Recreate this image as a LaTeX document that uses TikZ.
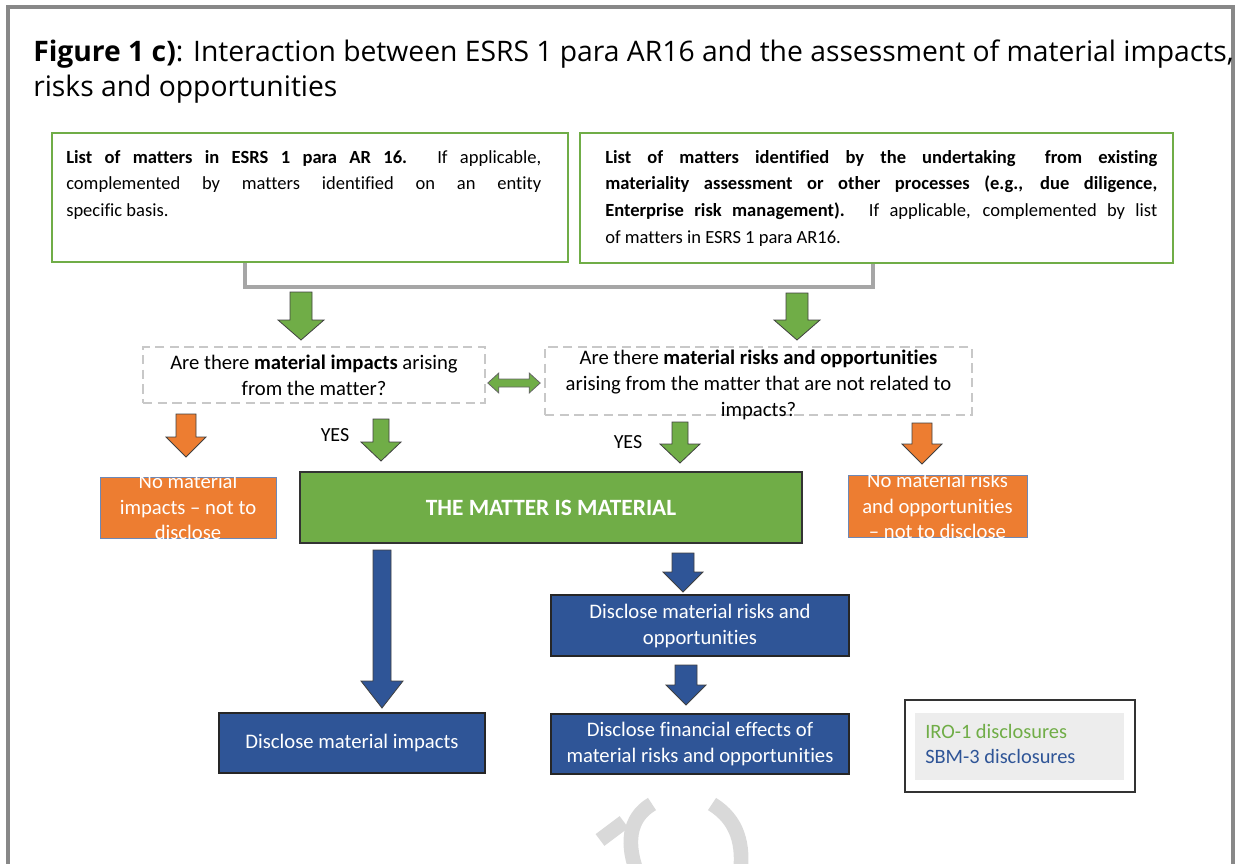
\documentclass[tikz,border=0pt]{standalone}
\usepackage{fontspec}
\setmainfont[Ligatures={TeX,NoCommon}]{Carlito}
\newfontfamily\titlefont{Open Sans}
\usetikzlibrary{calc}
\definecolor{ggreen}{HTML}{70AD47}
\definecolor{gorange}{HTML}{ED7D31}
\definecolor{gblue}{HTML}{2F5597}
\definecolor{framegray}{HTML}{888888}
\definecolor{dashgray}{HTML}{C8C8C8}
\definecolor{legbg}{HTML}{EDEDED}
\definecolor{wmgray}{HTML}{D9D9D9}
\definecolor{conngray}{HTML}{A6A6A6}
\newcommand{\blockdown}[7]{%
  \filldraw[fill=#7, draw=black!75, line width=0.6pt]
    (#1-#4,#2) -- (#1+#4,#2) -- (#1+#4,#3-#6) -- (#1+#5,#3-#6) -- (#1,#3)
    -- (#1-#5,#3-#6) -- (#1-#4,#3-#6) -- cycle;}
\tikzset{
  greenbox/.style={draw=ggreen, line width=1.5pt, fill=white, inner sep=0pt},
  qbox/.style={draw=dashgray, line width=1.2pt, dash pattern=on 7pt off 4pt, inner sep=0pt},
  orangebox/.style={draw=gblue!70, line width=0.6pt, fill=gorange, inner sep=0pt},
  bluebox/.style={draw=black!85, line width=0.8pt, fill=gblue, inner sep=0pt, text=white,
     align=center, font=\fontsize{15.5}{19.5}\selectfont},
  bodytext/.style={inner sep=0pt, font=\fontsize{13.9}{20}\selectfont},
  qtext/.style={inner sep=0pt, align=center, font=\fontsize{15.5}{19.5}\selectfont},
  otext/.style={inner sep=0pt, align=center, text=white, font=\fontsize{15.5}{19}\selectfont},
  yestext/.style={inner sep=0pt, font=\fontsize{15}{17}\selectfont},
  legtext/.style={anchor=west, inner sep=0pt, font=\fontsize{15.3}{17}\selectfont},
  titletext/.style={anchor=base west, inner sep=0pt, font=\titlefont\fontsize{21.2}{26}\selectfont},
}
\begin{document}
\begin{tikzpicture}[x=0.75pt,y=-0.75pt]
\useasboundingbox (0,0) rectangle (1241,863);
% frame
\draw[framegray, line width=3pt] (8,880) -- (8,7) -- (1233,7) -- (1233,880);
% title
\node[titletext] (t1) at (33,62)
  {\textbf{Figure 1 c)}: Interaction between ESRS 1 para AR16 and the assessment of material impacts,};
\node[titletext] (t2) at (33,97) {risks and opportunities};
% cover the overflow right of the frame
\fill[white] (1235,0) rectangle (1241,863);
% top boxes
\node[greenbox, minimum width=387pt, minimum height=96.75pt] (box1) at (310,197.5) {};
\node[bodytext, anchor=north west, text width=356.25pt, align=justify] (box1t) at (66,150)
  {\textbf{List of matters in ESRS 1 para AR 16.} If applicable,\linebreak
   complemented by matters identified on an entity\linebreak specific basis.};
\node[greenbox, minimum width=444.75pt, minimum height=97.5pt] (box2) at (876.5,198) {};
\node[bodytext, anchor=north west, text width=414pt, align=justify] (box2t) at (605,150)
  {\textbf{List of matters identified by the undertaking\hspace{22pt}from existing}\linebreak
   \textbf{materiality assessment or other processes (e.g., due diligence,}\linebreak
   \textbf{Enterprise risk management).} If applicable, complemented by list\linebreak
   of matters in ESRS 1 para AR16.};
% grey connector
\coordinate (c1) at (245,287);
\coordinate (c2) at (873,287);
\draw[conngray, line width=3pt] (box1.south -| c1) -- (c1) -- (c2) -- (box2.south -| c2);
% green arrows to questions
\blockdown{301}{292}{340}{11}{23}{20}{ggreen}
\blockdown{797}{293}{340}{11}{23}{20}{ggreen}
% questions
\node[qbox, minimum width=256.5pt, minimum height=42pt] (q1) at (314,375) {};
\node[qtext] (q1t) at (314,375) {Are there \textbf{material impacts} arising\\from the matter?};
\node[qbox, minimum width=320.25pt, minimum height=51pt] (q2) at (758.5,381) {};
\node[qtext] (q2t) at (758.5,385) {Are there \textbf{material risks and opportunities}\\arising from the matter that are not related to\\impacts?};
% double arrow
\coordinate (dal) at (q1.east |- 0,383);
\coordinate (dar) at (q2.west |- 0,383);
\filldraw[fill=ggreen, draw=black!60, line width=0.6pt]
  ($(dal)+(2,0)$) -- ++(11,-10) -- ++(0,6) -- ($(dar)+(-15,-4)$) -- ++(0,-6) -- ($(dar)+(-4,0)$)
  -- ++(-11,10) -- ++(0,-6) -- ($(dal)+(13,4)$) -- ++(0,6) -- cycle;
% orange / yes arrows
\blockdown{186}{414}{457}{10}{20}{20}{gorange}
\node[yestext] (yes1) at (335,435) {YES};
\blockdown{381}{419}{461}{8}{20}{19}{ggreen}
\node[yestext] (yes2) at (628,442) {YES};
\blockdown{680}{422}{463}{8}{20}{19}{ggreen}
\blockdown{922}{423}{464}{10}{20}{20}{gorange}
% orange boxes
\node[orangebox, minimum width=132pt, minimum height=45.75pt] (no1) at (188,507.5) {};
\begin{scope}
  \clip (no1.south west) rectangle (no1.north east);
  \node[otext] (no1t) at (188,507) {No material\\impacts – not to\\disclose};
\end{scope}
\node[orangebox, minimum width=134.25pt, minimum height=46.5pt] (no2) at (937.5,506) {};
\begin{scope}
  \clip (no2.south west) rectangle (no2.north east);
  \node[otext] (no2t) at (937.5,506) {No material risks\\and opportunities\\– not to disclose};
\end{scope}
% material box
\node[draw=black!80, line width=0.8pt, fill=ggreen, minimum width=376.5pt, minimum height=53.25pt,
  text=white, font=\bfseries\fontsize{17.5}{19}\selectfont] (mat) at (551,507.5) {THE MATTER IS MATERIAL};
% blue arrows
\blockdown{382}{550}{708}{9}{21}{27}{gblue}
\blockdown{683}{553}{592}{11}{20}{20}{gblue}
\blockdown{686}{665}{705}{11}{20}{20}{gblue}
% blue boxes
\node[bluebox, minimum width=223.5pt, minimum height=45.75pt] (dr) at (700,625.5)
  {Disclose material risks and\\opportunities};
\node[bluebox, minimum width=199.5pt, minimum height=45pt] (di) at (352,743)
  {Disclose material impacts};
\node[bluebox, minimum width=223.5pt, minimum height=45pt] (df) at (700,744)
  {Disclose financial effects of\\material risks and opportunities};
% legend
\node[draw=black!80, line width=0.8pt, minimum width=172.5pt, minimum height=69pt, inner sep=0pt] (leg) at (1020,746) {};
\node[fill=legbg, minimum width=156.75pt, minimum height=50.25pt, inner sep=0pt] (legin) at (1019.5,746.5) {};
\node[legtext, text=ggreen] (l1) at (925,731) {IRO-1 disclosures};
\node[legtext, text=gblue] (l2) at (925,756) {SBM-3 disclosures};
% watermark fragment
\draw[wmgray, line width=11pt] (652,804) .. controls (628,818) and (626,845) .. (638,875);
\draw[wmgray, line width=11pt] (712,804) .. controls (738,820) and (744,845) .. (740,875);
\draw[wmgray, line width=11pt] (600,840) -- (624,822);
\end{tikzpicture}
\end{document}
